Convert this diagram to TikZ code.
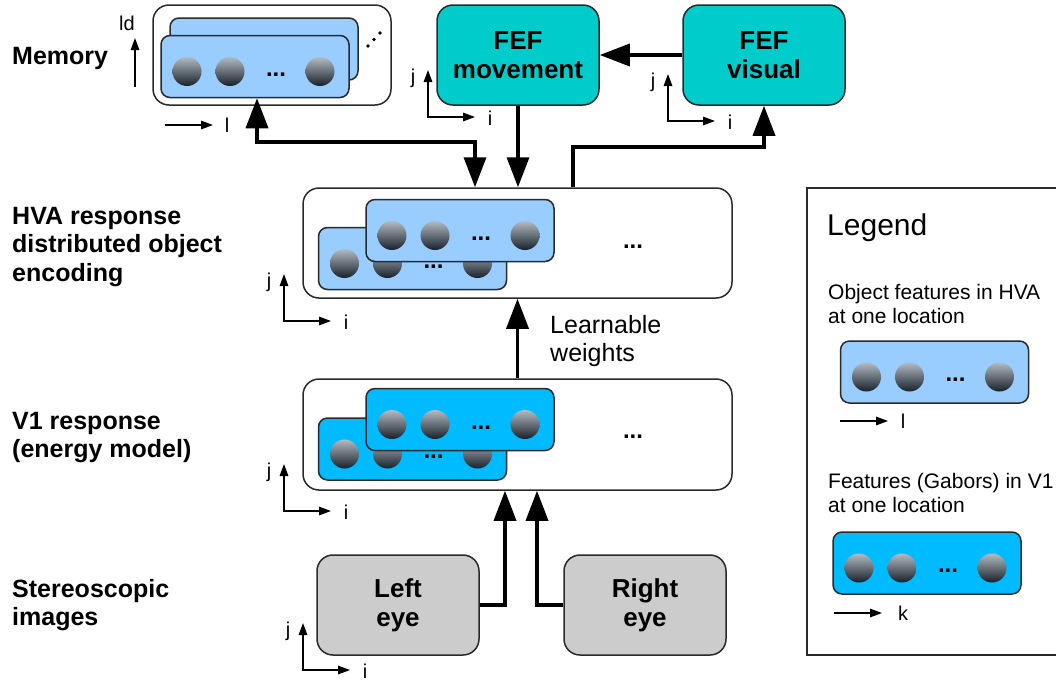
\documentclass[tikz,border=0pt]{standalone}
\usepackage{fontspec}
\setmainfont{Liberation Sans}
\usetikzlibrary{arrows.meta}
\definecolor{hvablue}{HTML}{99CCFF}
\definecolor{vonblue}{HTML}{00BBFF}
\definecolor{fefteal}{HTML}{00CCCC}
\definecolor{eyegray}{HTML}{CCCCCC}
\definecolor{ballhi}{HTML}{B2BAC2}
\definecolor{ballmid}{HTML}{5C6670}
\definecolor{balllo}{HTML}{18212A}
\definecolor{edgegray}{HTML}{2A2A2A}
\tikzset{
  card/.style={draw=edgegray, line width=1.5pt, rounded corners=9pt, fill=#1,
    minimum width=188pt, minimum height=62pt, inner sep=0pt},
  bigbox/.style={draw=edgegray, line width=1.5pt, rounded corners=16pt, fill=#1,
    minimum width=162pt, minimum height=100pt, inner sep=0pt, align=center,
    font=\bfseries\fontsize{26}{29}\selectfont},
  frame/.style={draw=edgegray, line width=1.5pt, rounded corners=16pt, fill=white, inner sep=0pt},
  flow/.style={line width=3.5pt, -{Triangle[length=30pt,width=22pt]}},
  flowboth/.style={line width=3.5pt, {Triangle[length=30pt,width=22pt]}-{Triangle[length=30pt,width=22pt]}},
  axis/.style={line width=1.5pt, -{Triangle[length=12pt,width=8.5pt]}},
  axisboth/.style={line width=1.5pt, {Triangle[length=12pt,width=8.5pt]}-{Triangle[length=12pt,width=8.5pt]}},
  axlab/.style={font=\fontsize{20}{22}\selectfont, inner sep=0pt},
  side/.style={font=\bfseries\fontsize{25}{28.5}\selectfont, align=left, inner sep=0pt, anchor=north west},
  dotsym/.style={font=\bfseries\fontsize{24}{24}\selectfont, inner sep=0pt},
  legtext/.style={font=\fontsize{21}{24}\selectfont, align=left, inner sep=0pt, anchor=north west},
  featball/.style={top color=ballhi, middle color=ballmid, bottom color=balllo},
}
\newcommand\featcard[4]{%
  \node[card=#4] (#1) at (#2,#3) {};
  \foreach \dx in {-68,-25,65}
    \shade[featball] ([xshift=\dx pt, yshift=-5pt]#1.center) circle (14.5pt);
  \node[dotsym] (#1d) at ([xshift=21pt,yshift=-8pt]#1.center) {...};
}
\newcommand\ijaxes[3]{%
  \coordinate (#1o) at (#2,#3);
  \coordinate (#1y) at (#2,#3-47);
  \coordinate (#1x) at (#2+47,#3);
  \draw[axisboth] (#1y) -- (#1o) -- (#1x);
  \node[axlab] (#1i) at (#2+62,#3+1) {i};
  \node[axlab] (#1j) at (#2-15,#3-39) {j};
}
\begin{document}
\begin{tikzpicture}[x=1pt,y=-1pt]
\useasboundingbox (0,0) rectangle (1056,681);
\fill[white] (0,0) rectangle (1056,681);

% side labels
\node[side, anchor=base west] (lmem) at (12,64) {Memory};
\node[side] (lhva) at (12,207) {HVA response\\distributed object\\encoding};
\node[side] (lv1) at (12,412) {V1 response\\(energy model)};
\node[side] (lst) at (12,579) {Stereoscopic\\images};

% memory
\node[frame, minimum width=238pt, minimum height=100pt] (mem) at (272,55) {};
\node[card=hvablue] (memb) at (264,49) {};
\featcard{memf}{255}{66.5}{hvablue}
\fill[black] (368,46) circle (1.9pt) (374,39.5) circle (1.9pt) (380,33) circle (1.9pt);
\coordinate (mao) at (135,87);
\coordinate (may) at (135,38);
\draw[axis] (mao) -- (may);
\node[axlab] (mald) at (127,23) {ld};
\coordinate (mlo) at (165,125);
\coordinate (mlx) at (213,125);
\draw[axis] (mlo) -- (mlx);
\node[axlab] (mll) at (227,125) {l};

% FEF
\node[bigbox=fefteal] (fefm) at (518,55) {FEF\\movement};
\node[bigbox=fefteal] (fefv) at (764,55) {FEF\\visual};
\ijaxes{fm}{428}{117}
\ijaxes{fv}{668}{121}

% HVA
\node[frame, minimum width=429pt, minimum height=110pt] (hva) at (517.5,243) {};
\featcard{hvab}{412.5}{258.5}{hvablue}
\featcard{hvaf}{460}{230.5}{hvablue}
\node[dotsym] (hvadots) at (633,247) {...};
\ijaxes{ha}{284}{321}

% V1
\node[frame, minimum width=429pt, minimum height=111pt] (v1) at (517.5,434.5) {};
\featcard{vob}{412.5}{449}{vonblue}
\featcard{vof}{460}{419.5}{vonblue}
\node[dotsym] (v1dots) at (633,437) {...};
\ijaxes{va}{284}{511}

% eyes
\node[bigbox=eyegray] (leye) at (398,605) {Left\\eye};
\node[bigbox=eyegray] (reye) at (645,605) {Right\\eye};
\ijaxes{ea}{303}{670}

% learnable weights
\node[font=\fontsize{25}{28}\selectfont, align=left, inner sep=0pt, anchor=north west] (lw) at (550,315) {Learnable\\weights};

% connectors
\coordinate (mc1) at (257,142);
\coordinate (mc2) at (475,142);
\draw[flowboth] (memf.south -| mc1) -- (mc1) -- (mc2) -- (hva.north -| mc2);
\draw[flow] (fefm.south) -- (fefm.south |- hva.north);
\coordinate (vc) at (573,147);
\draw[flow] (hva.north -| vc) -- (vc) -| (fefv.south);
\draw[flow] (fefv.west) -- (fefm.east);
\draw[flow] (v1.north) -- (hva.south);
\coordinate (lec) at (505,605);
\coordinate (rec) at (537,605);
\draw[flow] (leye.east) -| (v1.south -| lec);
\draw[flow] (reye.west) -| (v1.south -| rec);

% legend
\draw[line width=1.5pt, draw=edgegray] (1060,188) -- (807,188) -- (807,655) -- (1060,655);
\node[anchor=base west, inner sep=0pt, font=\fontsize{30}{32}\selectfont] (legt) at (827,235) {Legend};
\node[legtext] (leg1) at (828,284) {Object features in HVA\\at one location};
\featcard{lgh}{934.5}{372}{hvablue}
\coordinate (lgao) at (840,421);
\coordinate (lgax) at (888,421);
\draw[axis] (lgao) -- (lgax);
\node[axlab] (lgal) at (903,421) {l};
\node[legtext] (leg2) at (828,473) {Features (Gabors) in V1\\at one location};
\featcard{lgv}{927}{563}{vonblue}
\coordinate (lgbo) at (834,613);
\coordinate (lgbx) at (882,613);
\draw[axis] (lgbo) -- (lgbx);
\node[axlab] (lgbk) at (903,613) {k};
\end{tikzpicture}
\end{document}
